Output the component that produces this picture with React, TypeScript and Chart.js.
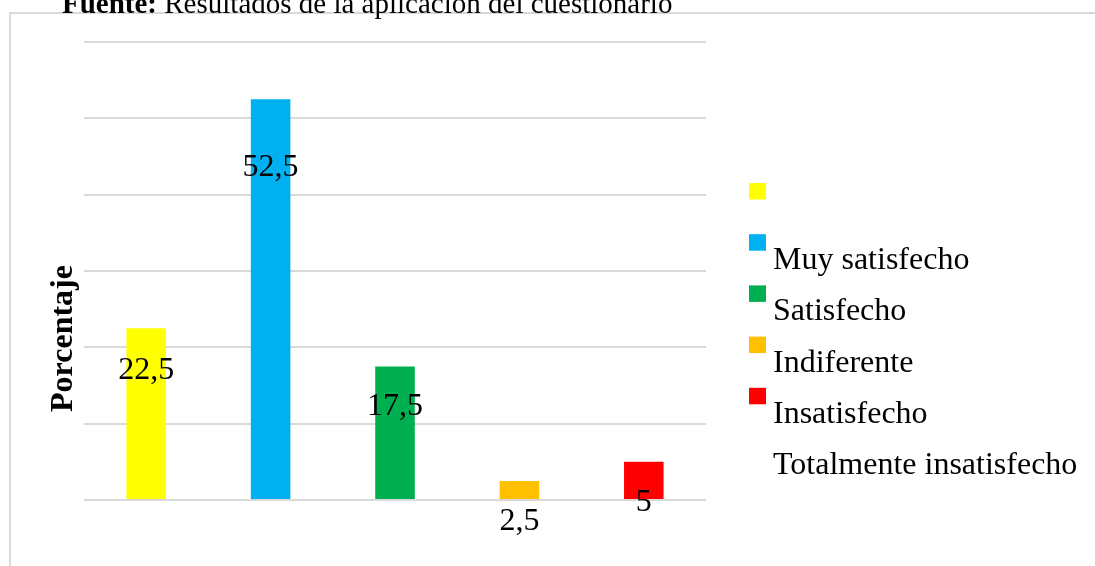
import React, { useEffect, useRef } from "react";
import { Chart, registerables } from "chart.js";

Chart.register(...registerables);

const categories = ["Muy satisfecho", "Satisfecho", "Indiferente", "Insatisfecho", "Totalmente insatisfecho"];
const values = [22.5, 52.5, 17.5, 2.5, 5];
const valueLabels = ["22,5", "52,5", "17,5", "2,5", "5"];
const colors = ["#FFFF00", "#00B0F0", "#00B050", "#FFC000", "#FF0000"];
const legendLabels = ["", "Muy satisfecho", "Satisfecho", "Indiferente", "Insatisfecho", "Totalmente insatisfecho"];
const legendColors = ["#FFFF00", "#00B0F0", "#00B050", "#FFC000", "#FF0000", ""];
const titleBold = "Fuente:";
const titleRest = " Resultados de la aplicación del cuestionario";
const yTitle = "Porcentaje";
const yMax = 60;
const yStep = 10;

const FONT = '"Liberation Serif", "Times New Roman", serif';
// per-label vertical offset (px) from bar top to label centre
const labelOffsets = [42, 68, 40, 41, 41];

const decorPlugin = {
  id: "decor",
  beforeDraw(chart: any) {
    const ctx = chart.ctx;
    ctx.save();
    ctx.fillStyle = "#ffffff";
    ctx.fillRect(0, 0, chart.width, chart.height);
    ctx.strokeStyle = "#d9d9d9";
    ctx.lineWidth = 2;
    ctx.strokeRect(10, 13, 1200, 700);
    ctx.restore();
  },
  afterDraw(chart: any) {
    const ctx = chart.ctx;
    ctx.save();
    // title
    ctx.fillStyle = "#000";
    ctx.textBaseline = "alphabetic";
    ctx.textAlign = "left";
    ctx.font = `bold 29px ${FONT}`;
    ctx.fillText(titleBold, 62, 13);
    const w = ctx.measureText(titleBold).width;
    ctx.font = `29px ${FONT}`;
    ctx.fillText(titleRest, 62 + w, 13);

    // y title
    ctx.save();
    ctx.translate(72, 338.5);
    ctx.rotate(-Math.PI / 2);
    ctx.font = `bold 32px ${FONT}`;
    ctx.textAlign = "center";
    ctx.fillText(yTitle, 0, 0);
    ctx.restore();

    // data labels
    const meta = chart.getDatasetMeta(0);
    ctx.font = `32px ${FONT}`;
    ctx.textAlign = "center";
    ctx.textBaseline = "middle";
    meta.data.forEach((bar: any, i: number) => {
      ctx.fillText(valueLabels[i], bar.x, bar.y + labelOffsets[i]);
    });

    // legend
    ctx.textAlign = "left";
    ctx.textBaseline = "alphabetic";
    legendLabels.forEach((lab, i) => {
      const top = 183 + i * 51.2;
      if (legendColors[i]) {
        ctx.fillStyle = legendColors[i];
        ctx.fillRect(749, top, 17, 16.5);
      }
      if (lab) {
        ctx.fillStyle = "#000";
        ctx.fillText(lab, 773, top + 35);
      }
    });
    ctx.restore();
  },
};

export default function App() {
  const ref = useRef<HTMLCanvasElement | null>(null);
  useEffect(() => {
    if (!ref.current) return;
    const chart = new Chart(ref.current, {
      type: "bar",
      data: {
        labels: categories,
        datasets: [
          {
            data: values,
            backgroundColor: colors,
            barPercentage: 0.318,
            categoryPercentage: 1,
          },
        ],
      },
      options: {
        responsive: false,
        animation: false,
        devicePixelRatio: 1,
        layout: { padding: { left: 84, right: 389, top: 42, bottom: 66 } },
        plugins: { legend: { display: false }, tooltip: { enabled: false }, title: { display: false } },
        scales: {
          x: { display: false },
          y: {
            min: 0,
            max: yMax,
            ticks: { display: false, stepSize: yStep },
            grid: { color: "#d9d9d9", lineWidth: 2, drawTicks: false },
            border: { display: false },
            afterFit: (s: any) => {
              s.width = 0;
            },
          },
        },
      },
      plugins: [decorPlugin],
    });
    return () => chart.destroy();
  }, []);
  return (
    <div style={{ position: "fixed", left: 0, top: 0, width: 1095, height: 566, background: "#fff" }}>
      <canvas ref={ref} width={1095} height={566} style={{ display: "block" }} />
    </div>
  );
}
